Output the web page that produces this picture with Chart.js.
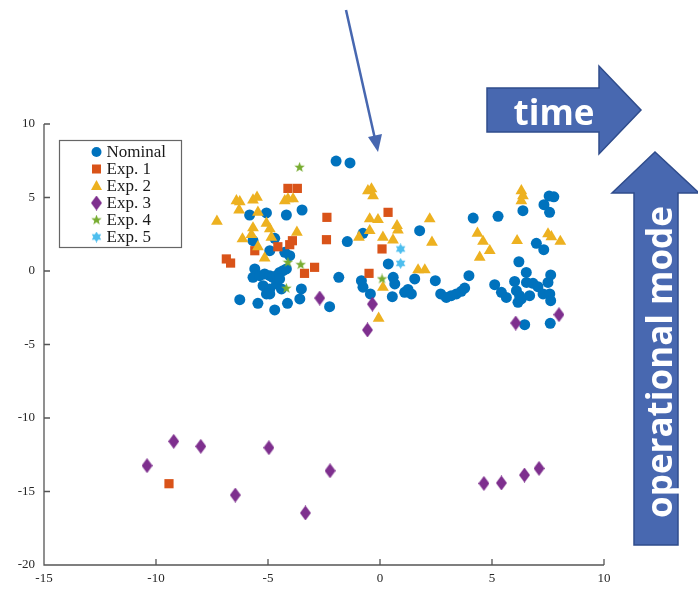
<!DOCTYPE html>
<html lang="en">
<head>
<meta charset="UTF-8">
<title>Operational mode scatter</title>
<script src="https://cdn.jsdelivr.net/npm/chart.js"></script>
<style>
    html, body { margin: 0; padding: 0; background: #fff; }
    .wrap { position: relative; width: 698px; height: 590px; }
    #plot { position: absolute; left: 0; top: 0; }
    svg.notes { position: absolute; left: 0; top: 0; pointer-events: none; }
    svg.notes text { font-family: "Open Sans", sans-serif; font-weight: 700; fill: #fff; }
</style>
</head>
<body>
<div class="wrap">
    <canvas id="plot" width="698" height="590"></canvas>
    <svg class="notes" width="698" height="590">
        <!-- thin pointer arrow -->
        <line x1="346" y1="10" x2="375" y2="139" stroke="#4767b0" stroke-width="2.5"/>
        <polygon points="368,137 382,134 378,152" fill="#4767b0"/>
        <!-- time arrow -->
        <polygon points="487,88 599,88 599,66 641,110 599,154 599,132 487,132"
                 fill="#4868b0" stroke="#2f4c8c" stroke-width="1.5"/>
        <text x="554" y="111" font-size="35" text-anchor="middle" dominant-baseline="central">time</text>
        <!-- operational mode arrow -->
        <polygon points="634,545 634,193 612,193 655,152 699,193 678,193 678,545"
                 fill="#4868b0" stroke="#2f4c8c" stroke-width="1.5"/>
        <text x="0" y="0" font-size="35" text-anchor="middle" dominant-baseline="central"
              transform="translate(658,362) rotate(-90)">operational mode</text>
    </svg>
</div>

<script>
    // values
    const nominalX = [-1.96, -1.34, -5.82, -5.07, -4.18, -3.48, -5.67, -4.70, -4.92, -4.25, -4.03,
        -5.59, -5.67, -5.37, -5.15, -4.92, -4.78, -4.62, -4.48, -4.33, -4.18,
        -5.22, -4.92, -4.62, -4.48, -4.40, -4.92, -5.07, -3.51, -3.58,
        -6.26, -5.45, -4.70, -4.13, -0.76, -1.46, -1.84, -2.25, -0.83, -0.76, -0.43,
        0.37, 0.59, 0.66, 0.55, 1.10, 1.40, 1.25, 1.55, 1.77, 4.16, 5.27, 2.47,
        2.71, 2.96, 3.18, 3.41, 3.63, 3.78, 3.97,
        7.55, 7.76, 7.32, 7.57, 6.38, 6.98, 7.31, 6.20, 6.53, 7.62,
        5.12, 5.42, 5.64, 6.01, 6.09, 6.23, 6.16, 6.31, 6.54, 6.68, 6.83, 7.05, 7.28, 7.50, 7.58, 7.62,
        6.46, 7.60];
    const nominalY = [7.48, 7.35, 3.81, 3.95, 3.81, 4.15, 2.06, 2.22, 1.38, 1.27, 1.04,
        0.14, -0.43, -0.32, -0.20, -0.32, -0.43, -0.32, -0.10, 0.02, 0.14,
        -1.00, -1.22, -0.88, -0.54, -1.22, -1.56, -1.56, -1.22, -1.90,
        -1.95, -2.20, -2.65, -2.20, 2.56, 2.00, -0.43, -2.43, -0.66, -1.10, -1.56,
        0.48, -0.43, -0.88, -1.75, -1.45, -1.56, -1.25, -0.54, 2.74, 3.60, 3.72, -0.66,
        -1.56, -1.80, -1.68, -1.56, -1.38, -1.16, -0.32,
        5.10, 5.05, 4.51, 3.99, 4.10, 1.88, 1.45, 0.63, -0.10, -0.27,
        -0.93, -1.45, -1.80, -0.71, -1.34, -1.68, -2.13, -1.90, -0.78, -1.68, -0.84, -1.07, -1.56, -0.78, -1.56, -2.02,
        -3.65, -3.56];

    const exp1X = [-4.11, -3.69, -4.56, -4.03, -3.91, -5.59, -6.86, -6.67, -2.92, -3.37, -2.37, -2.39, 0.36, 0.09, -0.49, -9.42];
    const exp1Y = [5.62, 5.62, 1.65, 1.79, 2.06, 1.38, 0.82, 0.54, 0.25, -0.16, 3.65, 2.13, 3.99, 1.50, -0.16, -14.47];

    const exp2X = [-7.28, -6.41, -6.26, -5.67, -5.49, -6.29, -5.45, -5.07, -5.67, -4.92, -5.74, -4.85, -6.14, -3.71,
        -4.25, -4.11, -3.88, -5.45, -5.15,
        -0.54, -0.38, -0.31, -0.46, -0.09, -0.46, -0.94, 0.13, 0.58, 0.76, 0.80, 0.13, -0.06,
        2.22, 2.32, 1.70, 2.00, 4.35, 4.60, 4.90, 4.45,
        6.31, 6.38, 6.31, 6.12, 7.50, 7.65, 8.05];
    const exp2Y = [3.38, 4.78, 4.71, 4.83, 5.01, 4.15, 3.99, 3.24, 2.93, 2.86, 2.47, 2.29, 2.18, 2.63,
        4.78, 4.90, 4.90, 1.65, 0.88,
        5.46, 5.58, 5.12, 3.54, 3.49, 2.74, 2.29, 2.29, 2.11, 3.08, 2.79, -1.12, -3.22,
        3.54, 1.95, 0.07, 0.07, 2.56, 2.01, 1.38, 0.93,
        5.46, 5.12, 4.78, 2.06, 2.52, 2.33, 2.01];

    const exp3X = [-10.40, -9.21, -8.00, -6.46, -4.96, -3.33, -2.23, 4.64, 5.42, 6.45, 7.10, -2.69, -0.34, -0.56, 6.06, 7.99];
    const exp3Y = [-13.24, -11.59, -11.93, -15.24, -12.02, -16.46, -13.59, -14.45, -14.42, -13.88, -13.43, -1.84, -2.25, -4.01, -3.54, -2.97];

    const exp4X = [-3.59, -4.11, -3.54, -4.18, 0.09];
    const exp4Y = [7.05, 0.59, 0.43, -1.18, -0.54];

    const exp5X = [0.92, 0.92];
    const exp5Y = [1.50, 0.52];

    const seriesNames = ['Nominal', 'Exp. 1', 'Exp. 2', 'Exp. 3', 'Exp. 4', 'Exp. 5'];
    const seriesColors = ['#0072BD', '#D95319', '#EDB120', '#7E2F8E', '#77AC30', '#4DBEEE'];

    const xTicks = [-15, -10, -5, 0, 5, 10];
    const yTicks = [-20, -15, -10, -5, 0, 5, 10];

    // little canvases for markers chart.js has no filled version of
    function markerCanvas(w, h, color, drawFn) {
        const c = document.createElement('canvas');
        c.width = w; c.height = h;
        const g = c.getContext('2d');
        g.fillStyle = color;
        g.beginPath();
        drawFn(g, w, h);
        g.closePath();
        g.fill();
        return c;
    }
    function starPath(g, w, h, n, inner) {
        const cx = w / 2, cy = h / 2, R = w / 2;
        for (let i = 0; i < n * 2; i++) {
            const r = i % 2 === 0 ? R : R * inner;
            const a = -Math.PI / 2 + i * Math.PI / n;
            const px = cx + Math.cos(a) * r, py = cy + Math.sin(a) * r;
            if (i === 0) g.moveTo(px, py); else g.lineTo(px, py);
        }
    }
    const diamondImg = markerCanvas(11, 15, seriesColors[3], (g, w, h) => {
        g.moveTo(w / 2, 0); g.lineTo(w, h / 2); g.lineTo(w / 2, h); g.lineTo(0, h / 2);
    });
    const pentagramImg = markerCanvas(11, 11, seriesColors[4], (g, w, h) => starPath(g, w, h, 5, 0.42));
    const hexagramImg = markerCanvas(11, 11, seriesColors[5], (g, w, h) => starPath(g, w, h, 6, 0.58));

    const pointStyles = ['circle', 'rect', 'triangle', diamondImg, pentagramImg, hexagramImg];
    const pointRadii = [5.5, 6.5, 6.8, 7, 6, 6];

    const xs = [nominalX, exp1X, exp2X, exp3X, exp4X, exp5X];
    const ys = [nominalY, exp1Y, exp2Y, exp3Y, exp4Y, exp5Y];

    const datasets = seriesNames.map((name, i) => ({
        label: name,
        data: xs[i].map((x, k) => ({ x: x, y: ys[i][k] })),
        backgroundColor: seriesColors[i],
        borderColor: seriesColors[i],
        borderWidth: 0,
        pointStyle: pointStyles[i],
        pointRadius: pointRadii[i],
        pointHoverRadius: pointRadii[i],
        order: seriesNames.length - i   // nominal drawn first, underneath
    }));

    // axis lines with inward ticks (matlab look)
    const axesPlugin = {
        id: 'inwardAxes',
        afterDatasetsDraw(chart) {
            const { ctx, chartArea, scales } = chart;
            ctx.save();
            ctx.strokeStyle = '#555';
            ctx.lineWidth = 1.3;
            ctx.beginPath();
            ctx.moveTo(chartArea.left, chartArea.top);
            ctx.lineTo(chartArea.left, chartArea.bottom);
            ctx.lineTo(chartArea.right, chartArea.bottom);
            xTicks.forEach(v => {
                const px = scales.x.getPixelForValue(v);
                ctx.moveTo(px, chartArea.bottom);
                ctx.lineTo(px, chartArea.bottom - 6);
            });
            yTicks.forEach(v => {
                const py = scales.y.getPixelForValue(v);
                ctx.moveTo(chartArea.left, py);
                ctx.lineTo(chartArea.left + 6, py);
            });
            ctx.stroke();
            ctx.restore();
        }
    };

    // boxed legend in the upper left corner
    const legendPlugin = {
        id: 'boxLegend',
        afterDraw(chart) {
            const { ctx, chartArea } = chart;
            const left = chartArea.left + 15.5, top = chartArea.top + 16.5;
            const w = 122, h = 107, rowH = 17;
            ctx.save();
            ctx.fillStyle = '#fff';
            ctx.fillRect(left, top, w, h);
            ctx.strokeStyle = '#666';
            ctx.lineWidth = 1.2;
            ctx.strokeRect(left, top, w, h);
            ctx.font = '17px "Liberation Serif", "Times New Roman", serif';
            ctx.textBaseline = 'middle';
            seriesNames.forEach((name, i) => {
                const cy = top + 11.5 + i * rowH;
                const cx = left + 37;
                const st = pointStyles[i];
                ctx.fillStyle = seriesColors[i];
                ctx.beginPath();
                if (st === 'circle') {
                    ctx.arc(cx, cy, 5, 0, Math.PI * 2);
                    ctx.fill();
                } else if (st === 'rect') {
                    ctx.fillRect(cx - 4.5, cy - 4.5, 9, 9);
                } else if (st === 'triangle') {
                    ctx.moveTo(cx, cy - 6);
                    ctx.lineTo(cx + 5.5, cy + 4);
                    ctx.lineTo(cx - 5.5, cy + 4);
                    ctx.closePath();
                    ctx.fill();
                } else {
                    ctx.drawImage(st, cx - st.width / 2, cy - st.height / 2);
                }
                ctx.fillStyle = '#1a1a1a';
                ctx.fillText(name, left + 47, cy + 1);
            });
            ctx.restore();
        }
    };

    const tickFont = { family: '"Liberation Serif", "Times New Roman", serif', size: 13 };

    new Chart(document.getElementById('plot'), {
        type: 'scatter',
        data: { datasets: datasets },
        options: {
            responsive: false,
            animation: false,
            devicePixelRatio: 1,
            layout: { padding: { top: 124, right: 94, left: 0, bottom: 0 } },
            plugins: {
                legend: { display: false },
                tooltip: { enabled: false }
            },
            scales: {
                x: {
                    type: 'linear',
                    min: -15, max: 10,
                    afterFit: s => { s.height = 25; },
                    afterBuildTicks: s => { s.ticks = xTicks.map(v => ({ value: v })); },
                    grid: { display: false, drawTicks: false },
                    border: { display: false },
                    ticks: { color: '#262626', font: tickFont, padding: 6, maxRotation: 0 }
                },
                y: {
                    type: 'linear',
                    min: -20, max: 10,
                    afterFit: s => { s.width = 44; },
                    afterBuildTicks: s => { s.ticks = yTicks.map(v => ({ value: v })); },
                    grid: { display: false, drawTicks: false },
                    border: { display: false },
                    ticks: { color: '#262626', font: tickFont, padding: 9 }
                }
            }
        },
        plugins: [axesPlugin, legendPlugin]
    });
</script>
</body>
</html>
